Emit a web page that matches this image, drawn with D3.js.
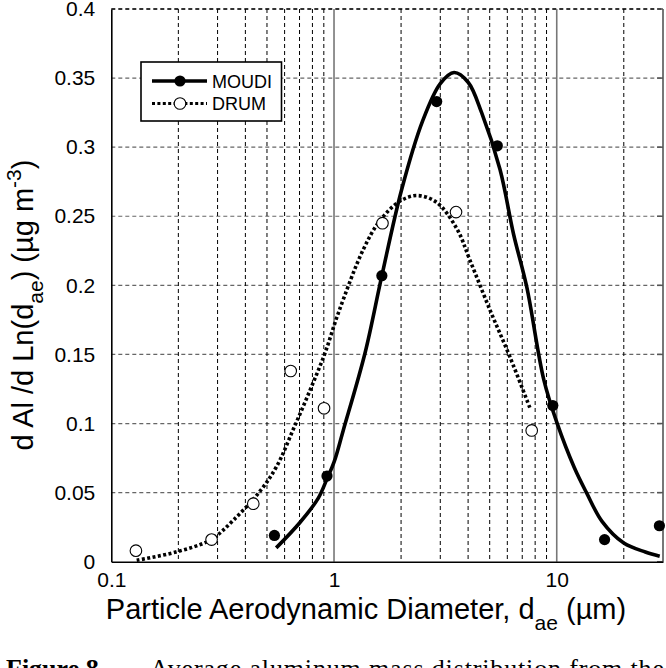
<!DOCTYPE html>
<html lang="en">
<head>
    <meta charset="UTF-8">
    <title>Al mass distribution</title>
    <script src="https://d3js.org/d3.v7.min.js"></script>
    <style>
        body { margin: 0; background: #fff; }
        svg { display: block; font-family: "Liberation Sans", Arial, sans-serif; }
        .tick-label { font-size: 21px; fill: #000; }
        .axis-title { font-size: 29px; fill: #000; }
        .legend-text { font-size: 18px; fill: #000; }
    </style>
</head>
<body>
<svg id="chart" width="666" height="668"></svg>
<script>
    // measured points (diameter in um, value in ug m-3)
    var moudiX = [0.54, 0.93, 1.64, 2.89, 5.41, 9.6, 16.4, 28.9];
    var moudiY = [0.019, 0.062, 0.207, 0.333, 0.301, 0.113, 0.016, 0.026];
    var drumX = [0.129, 0.282, 0.434, 0.639, 0.902, 1.65, 3.53, 7.72];
    var drumY = [0.008, 0.016, 0.042, 0.138, 0.111, 0.245, 0.253, 0.095];

    // fitted curves
    var moudiFitX = [0.55, 0.7, 0.85, 0.93, 1.0, 1.1, 1.378, 1.64, 2.01, 2.5, 3.0, 3.46, 4.0, 4.6, 5.56, 6.4, 7.33, 8.74, 10, 12, 13.6, 16, 20, 25, 29];
    var moudiFitY = [0.010, 0.028, 0.046, 0.060, 0.072, 0.095, 0.151, 0.207, 0.269, 0.319, 0.346, 0.354, 0.347, 0.325, 0.284, 0.237, 0.199, 0.132, 0.101, 0.068, 0.050, 0.029, 0.0135, 0.007, 0.004];
    var drumFitX = [0.13, 0.195, 0.28, 0.353, 0.465, 0.553, 0.657, 0.78, 0.911, 1.046, 1.354, 1.61, 1.98, 2.37, 2.89, 3.56, 4.08, 5.02, 6.17, 7.59];
    var drumFitY = [0.001, 0.007, 0.016, 0.030, 0.051, 0.069, 0.096, 0.124, 0.151, 0.180, 0.226, 0.247, 0.261, 0.265, 0.260, 0.241, 0.218, 0.182, 0.148, 0.111];

    var yTicks = [0, 0.05, 0.1, 0.15, 0.2, 0.25, 0.3, 0.35, 0.4];
    var xTickLabels = [0.1, 1, 10];
    var minorX = [0.2, 0.3, 0.4, 0.5, 0.6, 0.7, 0.8, 0.9, 2, 3, 4, 5, 6, 7, 8, 9, 20];
    var decadeX = [1, 10];

    var svg = d3.select("#chart");
    var plotL = 111.3, plotR = 663, plotT = 9, plotB = 561.7;

    var x = d3.scaleLog().domain([0.1, 30]).range([plotL, plotR]);
    var y = d3.scaleLinear().domain([0, 0.4]).range([plotB, plotT]);

    // grid
    var grid = svg.append("g");
    grid.selectAll(".hgrid").data(yTicks.filter(function(d) { return d > 0; }))
        .enter().append("line")
        .attr("x1", plotL).attr("x2", plotR)
        .attr("y1", function(d) { return y(d); }).attr("y2", function(d) { return y(d); })
        .attr("stroke", function(d) { return d === 0.4 ? "#333" : "#666"; })
        .attr("stroke-width", function(d) { return d === 0.4 ? 2 : 1.2; })
        .attr("stroke-dasharray", "4,3");
    grid.selectAll(".vgrid").data(minorX)
        .enter().append("line")
        .attr("x1", function(d) { return x(d); }).attr("x2", function(d) { return x(d); })
        .attr("y1", plotT).attr("y2", plotB)
        .attr("stroke", "#000").attr("stroke-width", 1)
        .attr("stroke-dasharray", "4,3");
    grid.selectAll(".dgrid").data(decadeX)
        .enter().append("line")
        .attr("x1", function(d) { return x(d); }).attr("x2", function(d) { return x(d); })
        .attr("y1", plotT).attr("y2", plotB)
        .attr("stroke", "#777").attr("stroke-width", 1.6);
    // right border
    svg.append("line").attr("x1", plotR).attr("x2", plotR).attr("y1", plotT).attr("y2", plotB)
        .attr("stroke", "#777").attr("stroke-width", 2);
    // small inner ticks on right
    svg.selectAll(".rtick").data(yTicks)
        .enter().append("line")
        .attr("x1", plotR - 6).attr("x2", plotR)
        .attr("y1", function(d) { return y(d); }).attr("y2", function(d) { return y(d); })
        .attr("stroke", "#555").attr("stroke-width", 1.5);

    // axes (left and bottom)
    svg.append("g")
        .attr("transform", "translate(" + plotL + ",0)")
        .call(d3.axisLeft(y).tickValues(yTicks).tickSize(0).tickPadding(16)
            .tickFormat(function(d) { return d === 0 ? "0" : String(+d.toFixed(2)); }))
        .call(function(g) {
            g.select(".domain").attr("stroke", "#000").attr("stroke-width", 1.6);
            g.selectAll("text").attr("class", "tick-label").attr("font-family", null).attr("font-size", null);
        });
    svg.append("g")
        .attr("transform", "translate(0," + plotB + ")")
        .call(d3.axisBottom(x).tickValues(xTickLabels).tickSize(0).tickPadding(10)
            .tickFormat(function(d) { return String(d); }))
        .call(function(g) {
            g.select(".domain").attr("stroke", "#000").attr("stroke-width", 1.6);
            g.selectAll("text").attr("class", "tick-label").attr("font-family", null).attr("font-size", null);
        });

    // fitted curves
    var line = d3.line()
        .x(function(d) { return x(d[0]); })
        .y(function(d) { return y(d[1]); })
        .curve(d3.curveCatmullRom.alpha(0.5));

    svg.append("path")
        .datum(drumFitX.map(function(v, i) { return [v, drumFitY[i]]; }))
        .attr("d", line)
        .attr("fill", "none").attr("stroke", "#000")
        .attr("stroke-width", 3.6).attr("stroke-dasharray", "3,2.4");

    svg.append("path")
        .datum(moudiFitX.map(function(v, i) { return [v, moudiFitY[i]]; }))
        .attr("d", line)
        .attr("fill", "none").attr("stroke", "#000")
        .attr("stroke-width", 3.6);

    // points
    svg.selectAll(".drum").data(drumX)
        .enter().append("circle")
        .attr("cx", function(d) { return x(d); })
        .attr("cy", function(d, i) { return y(drumY[i]); })
        .attr("r", 5.8)
        .attr("fill", "#fff").attr("stroke", "#000").attr("stroke-width", 1.1);

    svg.selectAll(".moudi").data(moudiX)
        .enter().append("circle")
        .attr("cx", function(d) { return x(d); })
        .attr("cy", function(d, i) { return y(moudiY[i]); })
        .attr("r", 5.6)
        .attr("fill", "#000");

    // legend
    var lg = svg.append("g");
    lg.append("rect").attr("x", 141).attr("y", 62).attr("width", 140.5).attr("height", 59)
        .attr("fill", "#fff").attr("stroke", "#000").attr("stroke-width", 1.6);
    lg.append("line").attr("x1", 152).attr("x2", 207).attr("y1", 81).attr("y2", 81)
        .attr("stroke", "#000").attr("stroke-width", 3.6);
    lg.append("circle").attr("cx", 180).attr("cy", 81).attr("r", 5.6).attr("fill", "#000");
    lg.append("text").attr("class", "legend-text").attr("x", 212).attr("y", 88).text("MOUDI");
    lg.append("line").attr("x1", 152).attr("x2", 207).attr("y1", 103.5).attr("y2", 103.5)
        .attr("stroke", "#000").attr("stroke-width", 3.2).attr("stroke-dasharray", "3,2.4");
    lg.append("circle").attr("cx", 180).attr("cy", 103.5).attr("r", 5.8)
        .attr("fill", "#fff").attr("stroke", "#000").attr("stroke-width", 1.1);
    lg.append("text").attr("class", "legend-text").attr("x", 212).attr("y", 110).text("DRUM");

    // x title
    var xt = svg.append("text").attr("class", "axis-title")
        .attr("x", 366).attr("y", 619).attr("text-anchor", "middle");
    xt.append("tspan").text("Particle Aerodynamic Diameter, d");
    xt.append("tspan").attr("dy", 11).attr("font-size", 21).text("ae");
    xt.append("tspan").attr("dy", -11).text(" (\u00b5m)");

    // y title
    var yt = svg.append("text").attr("class", "axis-title")
        .attr("transform", "translate(33,305) rotate(-90)").attr("text-anchor", "middle");
    yt.append("tspan").text("d Al /d Ln(d");
    yt.append("tspan").attr("dy", 10).attr("font-size", 21).text("ae");
    yt.append("tspan").attr("dy", -10).text(") (\u00b5g m");
    yt.append("tspan").attr("dy", -12).attr("font-size", 21).text("-3");
    yt.append("tspan").attr("dy", 12).text(")");

    // caption, cut at the bottom edge
    var capFont = "'Liberation Serif', 'Times New Roman', serif";
    svg.append("text").attr("x", 6).attr("y", 677)
        .attr("font-family", capFont).attr("font-size", 26).attr("font-weight", "bold")
        .text("Figure 8.");
    svg.append("text").attr("x", 150).attr("y", 677)
        .attr("font-family", capFont).attr("font-size", 26)
        .attr("textLength", 514).attr("lengthAdjust", "spacing")
        .text("Average aluminum mass distribution from the");
</script>
</body>
</html>
